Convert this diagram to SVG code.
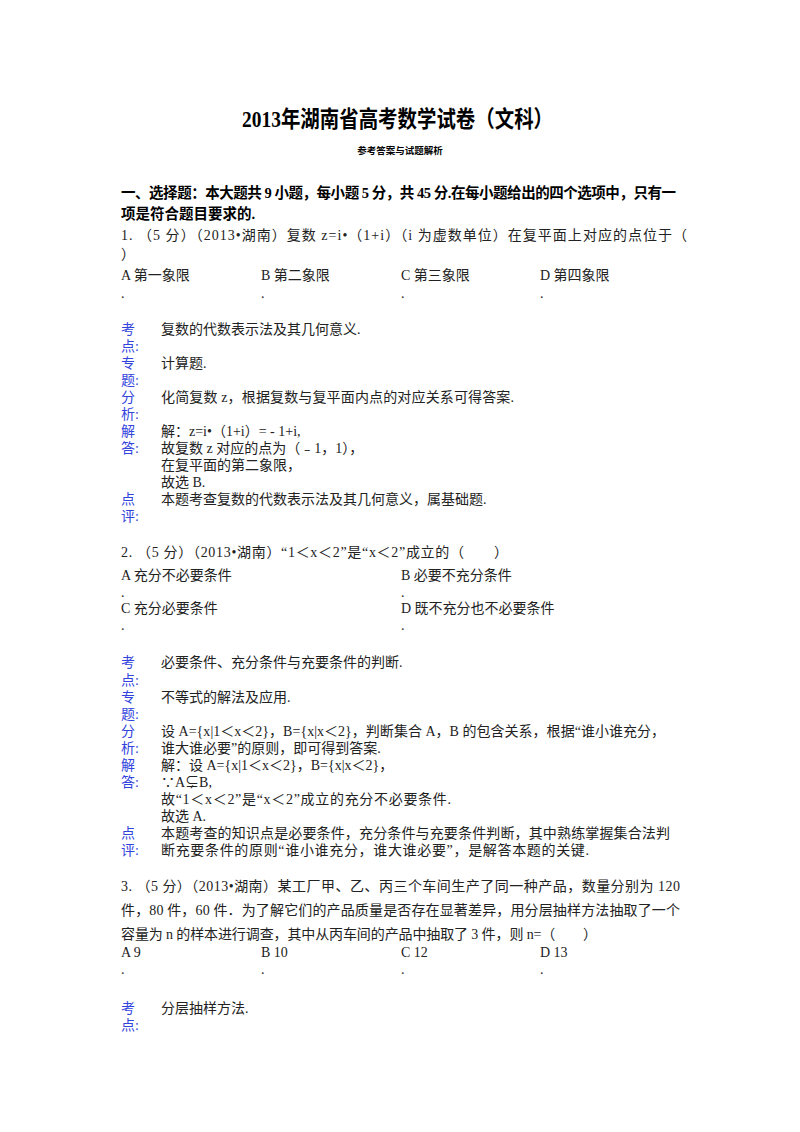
<svg xmlns="http://www.w3.org/2000/svg" width="800" height="1132" viewBox="0 0 800 1132">
<style>
text{font-family:"Liberation Serif","Noto Sans CJK SC",serif;font-size:14px;fill:#222}
.b{font-weight:bold;fill:#000}
.l{fill:#3344dd}
</style>
<rect width="800" height="1132" fill="#fff"/>
<text class="b" x="242" y="127" textLength="311" lengthAdjust="spacingAndGlyphs" style="font-size:23px">2013年湖南省高考数学试卷（文科）</text>
<text class="b" x="400" y="154" text-anchor="middle" style="font-size:9.5px">参考答案与试题解析</text>
<text class="b" x="121" y="198" textLength="555" style="font-size:14.5px">一、选择题：本大题共 9 小题，每小题 5 分，共 45 分.在每小题给出的四个选项中，只有一</text>
<text class="b" x="121" y="219" style="font-size:14.5px">项是符合题目要求的.</text>
<text x="121" y="240" textLength="566">1. （5 分）（2013•湖南）复数 z=i•（1+i）（i 为虚数单位）在复平面上对应的点位于（</text>
<text x="121" y="259">）</text>
<text x="121" y="280">A 第一象限</text><text x="261" y="280">B 第二象限</text><text x="401" y="280">C 第三象限</text><text x="540" y="280">D 第四象限</text>
<text x="121" y="298">.</text><text x="261" y="298">.</text><text x="401" y="298">.</text><text x="540" y="298">.</text>
<text class="l" x="121" y="334">考</text><text class="l" x="121" y="351">点:</text><text x="161" y="334">复数的代数表示法及其几何意义.</text>
<text class="l" x="121" y="368">专</text><text class="l" x="121" y="385">题:</text><text x="161" y="368">计算题.</text>
<text class="l" x="121" y="402">分</text><text class="l" x="121" y="419">析:</text><text x="161" y="402" textLength="353">化简复数 z，根据复数与复平面内点的对应关系可得答案.</text>
<text class="l" x="121" y="436">解</text><text class="l" x="121" y="453">答:</text>
<text x="161" y="436">解：z=i•（1+i）= - 1+i,</text>
<text x="161" y="453">故复数 z 对应的点为（﹣1，1），</text>
<text x="161" y="470">在复平面的第二象限，</text>
<text x="161" y="487">故选 B.</text>
<text class="l" x="121" y="504">点</text><text class="l" x="121" y="521">评:</text><text x="161" y="504">本题考查复数的代数表示法及其几何意义，属基础题.</text>
<text x="121" y="557" textLength="387">2. （5 分）（2013•湖南）“1＜x＜2”是“x＜2”成立的（　　）</text>
<text x="121" y="580">A 充分不必要条件</text><text x="401" y="580">B 必要不充分条件</text>
<text x="121" y="597">.</text><text x="401" y="597">.</text>
<text x="121" y="613">C 充分必要条件</text><text x="401" y="613">D 既不充分也不必要条件</text>
<text x="121" y="630">.</text><text x="401" y="630">.</text>
<text class="l" x="121" y="667">考</text><text class="l" x="121" y="685">点:</text><text x="161" y="667">必要条件、充分条件与充要条件的判断.</text>
<text class="l" x="121" y="702">专</text><text class="l" x="121" y="719">题:</text><text x="161" y="702">不等式的解法及应用.</text>
<text class="l" x="121" y="736">分</text><text class="l" x="121" y="753">析:</text>
<text x="161" y="736" textLength="504">设 A={x|1＜x＜2}，B={x|x＜2}，判断集合 A，B 的包含关系，根据“谁小谁充分，</text>
<text x="161" y="753">谁大谁必要”的原则，即可得到答案.</text>
<text class="l" x="121" y="770">解</text><text class="l" x="121" y="787">答:</text>
<text x="161" y="770">解：设 A={x|1＜x＜2}，B={x|x＜2}，</text>
<text x="161" y="787">∵A⊊B,</text>
<text x="161" y="804" textLength="290">故“1＜x＜2”是“x＜2”成立的充分不必要条件.</text>
<text x="161" y="821">故选 A.</text>
<text class="l" x="121" y="838">点</text><text class="l" x="121" y="855">评:</text>
<text x="161" y="838" textLength="509">本题考查的知识点是必要条件，充分条件与充要条件判断，其中熟练掌握集合法判</text>
<text x="161" y="855" textLength="428">断充要条件的原则“谁小谁充分，谁大谁必要”，是解答本题的关键.</text>
<text x="121" y="891" textLength="559">3. （5 分）（2013•湖南）某工厂甲、乙、丙三个车间生产了同一种产品，数量分别为 120</text>
<text x="121" y="915" textLength="559">件，80 件，60 件．为了解它们的产品质量是否存在显著差异，用分层抽样方法抽取了一个</text>
<text x="121" y="939" textLength="476">容量为 n 的样本进行调查，其中从丙车间的产品中抽取了 3 件，则 n=（　　）</text>
<text x="121" y="957">A 9</text><text x="261" y="957">B 10</text><text x="401" y="957">C 12</text><text x="540" y="957">D 13</text>
<text x="121" y="974">.</text><text x="261" y="974">.</text><text x="401" y="974">.</text><text x="540" y="974">.</text>
<text class="l" x="121" y="1013">考</text><text class="l" x="121" y="1030">点:</text><text x="161" y="1013">分层抽样方法.</text>
</svg>
